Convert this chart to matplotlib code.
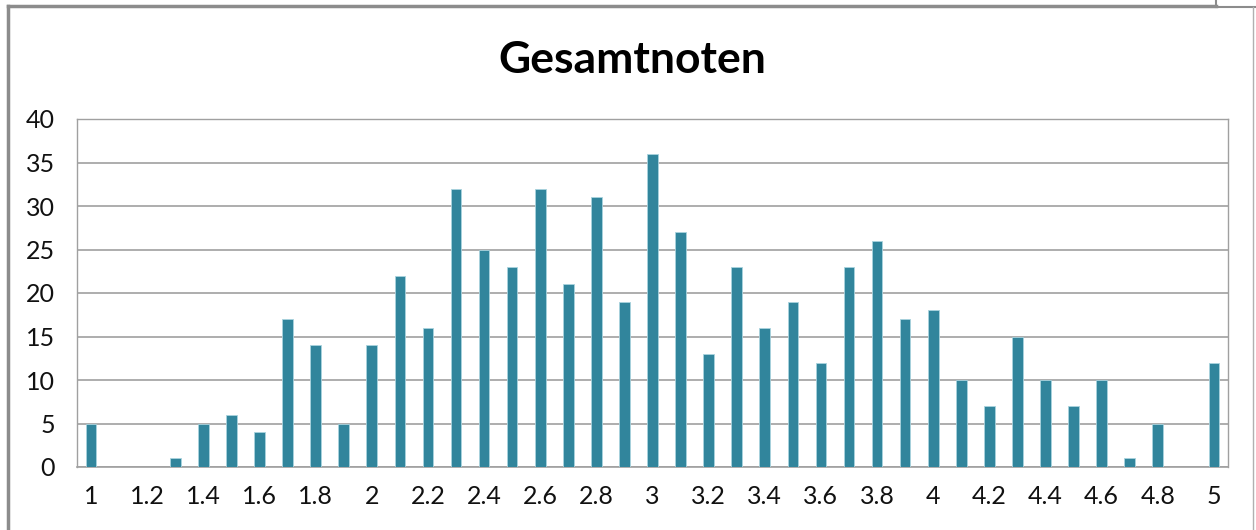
import matplotlib.pyplot as plt
from matplotlib.lines import Line2D

grades = ["1", "1.1", "1.2", "1.3", "1.4", "1.5", "1.6", "1.7", "1.8", "1.9",
          "2", "2.1", "2.2", "2.3", "2.4", "2.5", "2.6", "2.7", "2.8", "2.9",
          "3", "3.1", "3.2", "3.3", "3.4", "3.5", "3.6", "3.7", "3.8", "3.9",
          "4", "4.1", "4.2", "4.3", "4.4", "4.5", "4.6", "4.7", "4.8", "4.9", "5"]
counts = [5, 0, 0, 1, 5, 6, 4, 17, 14, 5,
          14, 22, 16, 32, 25, 23, 32, 21, 31, 19,
          36, 27, 13, 23, 16, 19, 12, 23, 26, 17,
          18, 10, 7, 15, 10, 7, 10, 1, 5, 0, 12]
yticks = [0, 5, 10, 15, 20, 25, 30, 35, 40]

plt.rcParams['font.family'] = ['Lato', 'DejaVu Sans']

fig = plt.figure(figsize=(12.56, 5.30), dpi=100)
ax = fig.add_axes([77/1256, 1-467/530, (1228-77)/1256, (467-119)/530])

x = list(range(len(grades)))
ax.bar(x, counts, width=0.38, color='#31859C', edgecolor='#A9D3DE', linewidth=0.6, zorder=3)

ax.set_xlim(-0.5, len(grades) - 0.5)
ax.set_ylim(0, 40)
ax.set_yticks(yticks)
ax.set_yticklabels([str(v) for v in yticks], fontsize=18, color='#111111')
ax.set_xticks(x[::2])
ax.set_xticklabels(grades[::2], fontsize=18, color='#111111')
ax.tick_params(length=0)
ax.tick_params(axis='x', pad=13)
ax.tick_params(axis='y', pad=16)
ax.grid(axis='y', color='#A0A0A0', linewidth=1.2, zorder=0)
for s in ['left', 'top', 'right']:
    ax.spines[s].set_color('#A0A0A0')
    ax.spines[s].set_linewidth(1.0)
ax.spines['bottom'].set_color('#A0A0A0')
ax.spines['bottom'].set_linewidth(1.2)

fig.text(632/1256, 1-60/530, "Gesamtnoten", ha='center', va='center',
         fontsize=32, fontweight='bold')

# chart frame from the spreadsheet
W, H = 1256, 530
fig.add_artist(Line2D([8/W, 8/W], [0, 1-6/H], color='#8C8C8C', linewidth=2.5, transform=fig.transFigure))
fig.add_artist(Line2D([8/W, 1216/W], [1-6/H, 1-6/H], color='#8C8C8C', linewidth=2.5, transform=fig.transFigure))
fig.add_artist(Line2D([1216/W, 1216/W], [1-6/H, 1], color='#8C8C8C', linewidth=1.5, transform=fig.transFigure))
fig.add_artist(Line2D([1216/W, 1], [1-7/H, 1-7/H], color='#8C8C8C', linewidth=1.5, transform=fig.transFigure))
fig.add_artist(Line2D([1253/W, 1253/W], [0, 1-7/H], color='#B0B0B0', linewidth=1.0, transform=fig.transFigure))

fig.savefig("out.png", dpi=100)
